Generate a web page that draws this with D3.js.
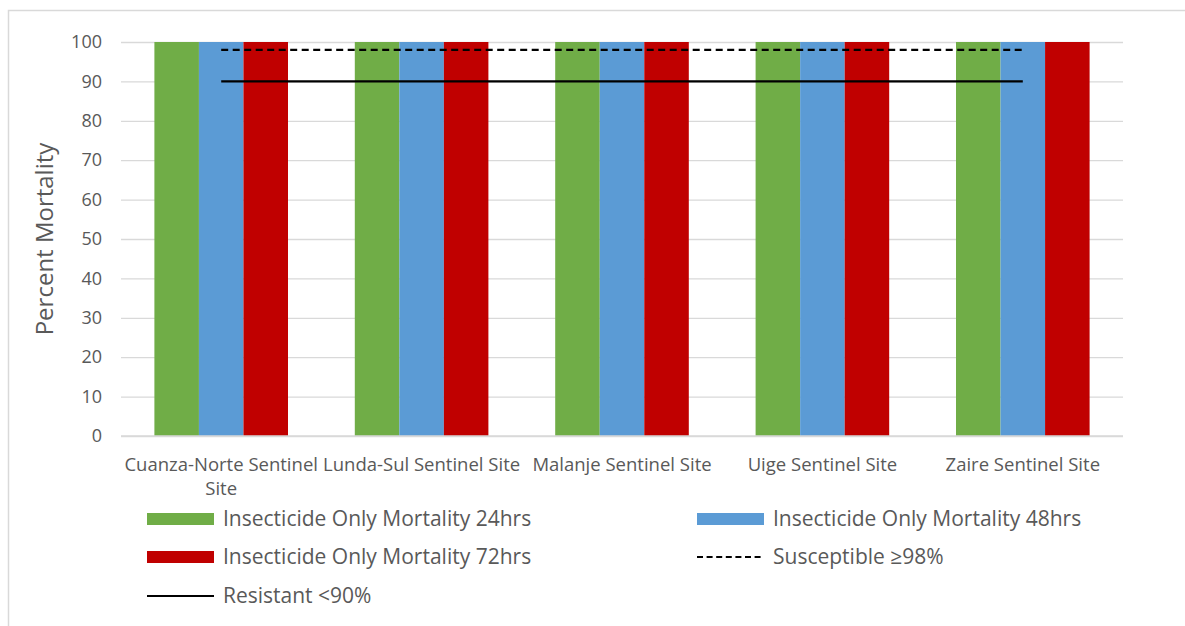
<!DOCTYPE html>
<html>
<head>
<meta charset="utf-8">
<script src="https://cdn.jsdelivr.net/npm/d3@7"></script>
<style>
  html, body { margin: 0; padding: 0; background: #fff; }
  svg { display: block; font-family: "Open Sans", sans-serif; }
</style>
</head>
<body>
<svg id="chart" width="1185" height="626"></svg>
<script>
// Sites tested
const sites = [
  "Cuanza-Norte Sentinel Site",
  "Lunda-Sul Sentinel Site",
  "Malanje Sentinel Site",
  "Uige Sentinel Site",
  "Zaire Sentinel Site"
];
// Mortality (%) per site for each holding period
const mortality24 = [100, 100, 100, 100, 100];
const mortality48 = [100, 100, 100, 100, 100];
const mortality72 = [100, 100, 100, 100, 100];
const seriesNames = [
  "Insecticide Only Mortality 24hrs",
  "Insecticide Only Mortality 48hrs",
  "Insecticide Only Mortality 72hrs"
];
// WHO thresholds
const susceptible = [98, 98, 98, 98, 98];
const resistant = [90, 90, 90, 90, 90];
const thresholdNames = ["Susceptible \u226598%", "Resistant <90%"];
const yTicks = [0, 10, 20, 30, 40, 50, 60, 70, 80, 90, 100];

const colors = ["#70AD47", "#5B9BD5", "#C00000"];
const textColor = "#595959";
const gridColor = "#d9d9d9";
const font = "'Open Sans', sans-serif";

const svg = d3.select("#chart");
const plot = { left: 121, right: 1123, top: 42, bottom: 436 };

// chart frame
svg.append("rect")
  .attr("x", 8.5).attr("y", 10.5)
  .attr("width", 1200).attr("height", 700)
  .attr("fill", "#fff")
  .attr("stroke", "#d9d9d9").attr("stroke-width", 1.5);

const x = d3.scaleBand().domain(sites).range([plot.left, plot.right])
  .paddingInner(0).paddingOuter(0);
const y = d3.scaleLinear().domain([0, 100]).range([plot.bottom, plot.top]);

// bar width = band / (3 bars + 1.5 gap)
const barW = x.bandwidth() / 4.5;
const xs = d3.scaleBand().domain([0, 1, 2])
  .range([x.bandwidth() / 2 - 1.5 * barW, x.bandwidth() / 2 + 1.5 * barW]);

// gridlines
const yAxis = d3.axisLeft(y).tickValues(yTicks)
  .tickSize(-(plot.right - plot.left)).tickPadding(19);
const gy = svg.append("g").attr("transform", `translate(${plot.left},0)`).call(yAxis);
gy.select(".domain").remove();
gy.selectAll(".tick line").attr("stroke", gridColor).attr("stroke-width", 1.3);
gy.selectAll(".tick text").attr("fill", textColor).attr("font-size", 18)
  .attr("font-family", font);

// bars
const series = [mortality24, mortality48, mortality72];
series.forEach((vals, si) => {
  svg.append("g").selectAll("rect").data(vals).join("rect")
    .attr("x", (d, i) => x(sites[i]) + xs(si))
    .attr("y", d => y(d))
    .attr("width", xs.bandwidth())
    .attr("height", d => y(0) - y(d))
    .attr("fill", colors[si]);
});

// threshold lines across site centres
const lineGen = d3.line()
  .x((d, i) => x(sites[i]) + x.bandwidth() / 2)
  .y(d => y(d));
svg.append("path").datum(susceptible).attr("d", lineGen)
  .attr("fill", "none").attr("stroke", "#000").attr("stroke-width", 2.2)
  .attr("stroke-dasharray", "7,4.5");
svg.append("path").datum(resistant).attr("d", lineGen)
  .attr("fill", "none").attr("stroke", "#000").attr("stroke-width", 2.2);

// x axis labels (wrapped to band width)
const xAxis = d3.axisBottom(x).tickSize(0).tickPadding(0);
const gx = svg.append("g").attr("transform", `translate(0,${plot.bottom})`).call(xAxis);
gx.select(".domain").remove();
gx.selectAll(".tick text").remove();
gx.selectAll(".tick").each(function(d) {
  const t = d3.select(this).append("text")
    .attr("fill", textColor).attr("font-size", 18.5)
    .attr("font-family", font)
    .attr("text-anchor", "middle");
  const words = d.split(" ");
  let line = [], lines = [];
  const maxW = x.bandwidth();
  const probe = t.append("tspan");
  words.forEach(w => {
    const test = line.concat([w]).join(" ");
    probe.text(test);
    if (probe.node().getComputedTextLength() > maxW && line.length) {
      lines.push(line.join(" "));
      line = [w];
    } else line.push(w);
  });
  lines.push(line.join(" "));
  probe.remove();
  lines.forEach((l, i) => t.append("tspan").attr("x", 0).attr("y", 35 + i * 24).text(l));
});
// baseline
svg.append("line").attr("x1", plot.left).attr("x2", plot.right)
  .attr("y1", plot.bottom).attr("y2", plot.bottom)
  .attr("stroke", gridColor).attr("stroke-width", 1.3);

// y axis title
svg.append("text")
  .attr("transform", `translate(53,${(plot.top + plot.bottom) / 2}) rotate(-90)`)
  .attr("text-anchor", "middle").attr("fill", textColor).attr("font-size", 24)
  .attr("font-family", font)
  .text("Percent Mortality");

// legend
const legendItems = [
  { name: seriesNames[0], type: "bar", color: colors[0], col: 0, row: 0 },
  { name: seriesNames[1], type: "bar", color: colors[1], col: 1, row: 0 },
  { name: seriesNames[2], type: "bar", color: colors[2], col: 0, row: 1 },
  { name: thresholdNames[0], type: "dash", col: 1, row: 1 },
  { name: thresholdNames[1], type: "line", col: 0, row: 2 }
];
const colX = [147, 697];
const rowY = [519, 557, 596];
const lg = svg.append("g");
legendItems.forEach(it => {
  const gx0 = colX[it.col], gy0 = rowY[it.row];
  if (it.type === "bar") {
    lg.append("rect").attr("x", gx0).attr("y", gy0 - 6)
      .attr("width", 67).attr("height", 12).attr("fill", it.color);
  } else {
    lg.append("line").attr("x1", gx0).attr("x2", gx0 + 67)
      .attr("y1", gy0).attr("y2", gy0)
      .attr("stroke", "#000").attr("stroke-width", 2)
      .attr("stroke-dasharray", it.type === "dash" ? "6,3.6" : null);
  }
  lg.append("text").attr("x", gx0 + 76).attr("y", gy0)
    .attr("dy", "0.35em").attr("fill", textColor).attr("font-size", 21)
    .attr("font-family", font)
    .text(it.name);
});
</script>
</body>
</html>
